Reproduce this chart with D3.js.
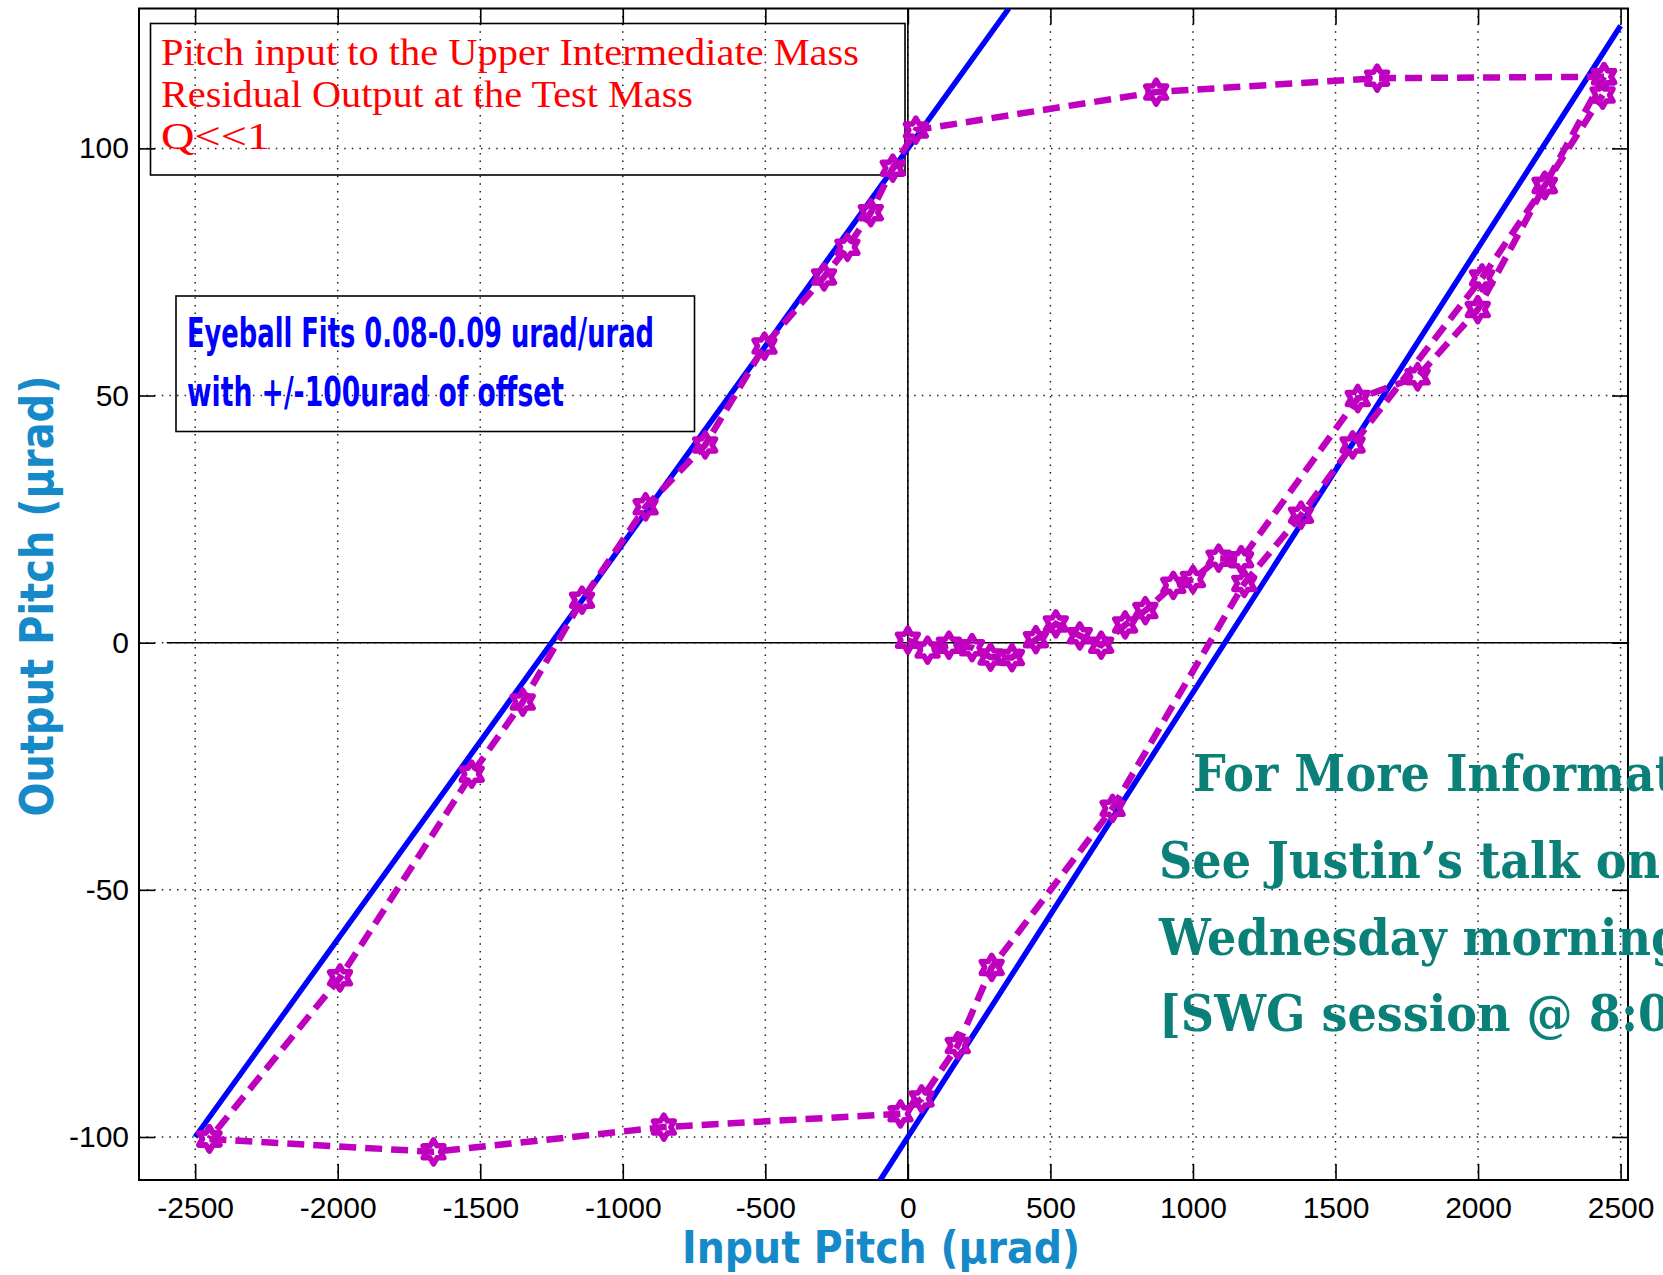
<!DOCTYPE html>
<html>
<head>
<meta charset="utf-8">
<script src="https://cdn.jsdelivr.net/npm/d3@7"></script>
<style>
  body { margin: 0; background: #fff; }
  svg { display: block; }
</style>
</head>
<body>
<div id="chart"></div>
<script>

var xTicks = [-2500, -2000, -1500, -1000, -500, 0, 500, 1000, 1500, 2000, 2500];
var yTicks = [-100, -50, 0, 50, 100];

// first sweep from rest, 0 -> +2500
var upFirstX = [0, 69, 144, 225, 290, 365, 449, 519, 603, 678, 762, 833, 931, 1000, 1090, 1169, 1578, 1788, 1999, 2234, 2442];
var upFirstY = [0.5, -1.5, -0.5, -1, -2.9, -3, 0.6, 3.8, 1.4, -0.5, 3.6, 6.5, 11.6, 12.8, 17.1, 16.8, 49.4, 53.8, 67.4, 92.5, 114.5];

// +2500 -> -2500
var downX = [2442, 1646, 871, 28, -53, -130, -212, -294, -503, -711, -920, -1143, -1351, -1530, -1992, -2450];
var downY = [114.5, 114.2, 111.4, 103.7, 96, 87, 80, 74, 60, 40, 27.5, 8.6, -12, -26.6, -67.8, -100.4];

// -2500 -> +2500
var upSecondX = [-2450, -1664, -856, -26, 48, 175, 294, 718, 1180, 1379, 1560, 2014, 2234, 2437];
var upSecondY = [-100.4, -103, -98, -95.3, -92.3, -81.5, -65.7, -33.5, 12.0, 25.8, 40, 73.8, 92.5, 110.8];

// eyeball fits
var fitLeftX = [-2500, 354];
var fitLeftY = [-100, 128.3];
var fitRightX = [-98, 2500];
var fitRightY = [-108.8, 124.8];

var infoLines = ["Pitch input to the Upper Intermediate Mass", "Residual Output at the Test Mass", "Q<<1"];
var fitLines = ["Eyeball Fits 0.08-0.09 urad/urad", "with +/-100urad of offset"];
var talkLines = ["For More Information", "See Justin\u2019s talk on", "Wednesday morning", "[SWG session @ 8:00"];

var W = 1663, H = 1275;
var pL = 139, pR = 1628, pT = 8.5, pB = 1180;

var svg = d3.select("#chart").append("svg")
    .attr("width", W)
    .attr("height", H);

svg.append("rect").attr("width", W).attr("height", H).attr("fill", "#fff");

var x = d3.scaleLinear().domain([-2697, 2526]).range([pL, pR]);
var y = d3.scaleLinear().domain([-108.7, 128.3]).range([pB, pT]);

svg.append("defs").append("clipPath").attr("id", "plotclip")
  .append("rect")
    .attr("x", pL).attr("y", pT)
    .attr("width", pR - pL).attr("height", pB - pT);

// grid
var grid = svg.append("g").attr("class", "grid")
    .attr("stroke", "#222")
    .attr("stroke-width", 1.5)
    .attr("stroke-dasharray", "1.5,6.1");

grid.selectAll(".gx").data(xTicks).enter().append("line")
    .attr("x1", function(d) { return x(d); })
    .attr("x2", function(d) { return x(d); })
    .attr("y1", pT).attr("y2", pB);

grid.selectAll(".gy").data(yTicks).enter().append("line")
    .attr("y1", function(d) { return y(d); })
    .attr("y2", function(d) { return y(d); })
    .attr("x1", pL).attr("x2", pR);

// zero axes
svg.append("line")
    .attr("x1", x(0)).attr("x2", x(0))
    .attr("y1", pT).attr("y2", pB)
    .attr("stroke", "#000").attr("stroke-width", 1.6);
svg.append("line")
    .attr("x1", x(-2600)).attr("x2", pR)
    .attr("y1", y(0)).attr("y2", y(0))
    .attr("stroke", "#000").attr("stroke-width", 1.6);

// inner ticks on all four sides
function noDomain(g) { g.select(".domain").remove(); g.selectAll("line").attr("stroke", "#000").attr("stroke-width", 1.6); }

svg.append("g").attr("transform", "translate(0," + pB + ")")
    .call(d3.axisTop(x).tickValues(xTicks).tickSize(16).tickFormat(""))
    .call(noDomain);
svg.append("g").attr("transform", "translate(0," + pT + ")")
    .call(d3.axisBottom(x).tickValues(xTicks).tickSize(16).tickFormat(""))
    .call(noDomain);
svg.append("g").attr("transform", "translate(" + pL + ",0)")
    .call(d3.axisRight(y).tickValues(yTicks).tickSize(16).tickFormat(""))
    .call(noDomain);
svg.append("g").attr("transform", "translate(" + pR + ",0)")
    .call(d3.axisLeft(y).tickValues(yTicks).tickSize(16).tickFormat(""))
    .call(noDomain);

// tick labels
var xAxis = svg.append("g").attr("transform", "translate(0," + pB + ")")
    .call(d3.axisBottom(x).tickValues(xTicks).tickSize(0).tickPadding(17)
      .tickFormat(function(d) { return String(d); }));
xAxis.select(".domain").remove();
xAxis.selectAll("text")
    .attr("font-family", "Liberation Sans, Arial, sans-serif")
    .attr("font-size", 30).attr("fill", "#000");

var yAxis = svg.append("g").attr("transform", "translate(" + pL + ",0)")
    .call(d3.axisLeft(y).tickValues(yTicks).tickSize(0).tickPadding(10)
      .tickFormat(function(d) { return String(d); }));
yAxis.select(".domain").remove();
yAxis.selectAll("text")
    .attr("font-family", "Liberation Sans, Arial, sans-serif")
    .attr("font-size", 30).attr("fill", "#000");

// frame
svg.append("rect")
    .attr("x", pL).attr("y", pT)
    .attr("width", pR - pL).attr("height", pB - pT)
    .attr("fill", "none").attr("stroke", "#000").attr("stroke-width", 2);

// text boxes (transparent, grid shows through)
svg.append("rect")
    .attr("x", 150.5).attr("y", 23.5).attr("width", 754.5).attr("height", 151.5)
    .attr("fill", "none").attr("stroke", "#000").attr("stroke-width", 1.6);

var infoWidths = [698, 532, 109];
var infoBase = [65, 107, 149];
svg.selectAll(".info").data(infoLines).enter().append("text")
    .attr("x", 161)
    .attr("y", function(d, i) { return infoBase[i]; })
    .attr("font-family", "Liberation Serif, Times New Roman, serif")
    .attr("font-size", 38)
    .attr("fill", "#ff0000")
    .attr("textLength", function(d, i) { return infoWidths[i]; })
    .attr("lengthAdjust", "spacingAndGlyphs")
    .text(function(d) { return d; });

svg.append("rect")
    .attr("x", 176).attr("y", 296).attr("width", 518.5).attr("height", 135.5)
    .attr("fill", "none").attr("stroke", "#000").attr("stroke-width", 1.6);

var fitWidths = [467, 377];
var fitBase = [347, 406];
svg.selectAll(".fitnote").data(fitLines).enter().append("text")
    .attr("x", 187)
    .attr("y", function(d, i) { return fitBase[i]; })
    .attr("font-family", "Liberation Sans Narrow, DejaVu Sans Condensed, Liberation Sans, sans-serif")
    .attr("font-weight", "bold")
    .attr("font-size", 40)
    .attr("fill", "#0000ff")
    .attr("textLength", function(d, i) { return fitWidths[i]; })
    .attr("lengthAdjust", "spacingAndGlyphs")
    .text(function(d) { return d; });

// plot content
var plot = svg.append("g").attr("clip-path", "url(#plotclip)");

var line = d3.line()
    .x(function(d) { return x(d[0]); })
    .y(function(d) { return y(d[1]); });

[[fitLeftX, fitLeftY], [fitRightX, fitRightY]].forEach(function(f) {
  plot.append("path")
      .datum(d3.zip(f[0], f[1]))
      .attr("d", line)
      .attr("fill", "none")
      .attr("stroke", "#0000ff")
      .attr("stroke-width", 5.5);
});

var magenta = "#bf00bf";
var sweeps = [[upFirstX, upFirstY], [downX, downY], [upSecondX, upSecondY]];

sweeps.forEach(function(s) {
  plot.append("path")
      .datum(d3.zip(s[0], s[1]))
      .attr("d", line)
      .attr("fill", "none")
      .attr("stroke", magenta)
      .attr("stroke-width", 6.5)
      .attr("stroke-dasharray", "17,9");
});

function hexagram(r) {
  var pts = [];
  for (var i = 0; i < 12; i++) {
    var a = -Math.PI / 2 + i * Math.PI / 6;
    var rr = (i % 2) ? r / Math.sqrt(3) : r;
    pts.push([rr * Math.cos(a), rr * Math.sin(a)]);
  }
  return "M" + pts.join("L") + "Z";
}
var star = hexagram(12);

sweeps.forEach(function(s) {
  plot.selectAll(null)
      .data(d3.zip(s[0], s[1]))
    .enter().append("path")
      .attr("d", star)
      .attr("transform", function(d) { return "translate(" + x(d[0]) + "," + y(d[1]) + ")"; })
      .attr("fill", "none")
      .attr("stroke", magenta)
      .attr("stroke-width", 5.5)
      .attr("stroke-linejoin", "round");
});

// axis labels
svg.append("text")
    .attr("x", 881).attr("y", 1263)
    .attr("text-anchor", "middle")
    .attr("font-family", "DejaVu Sans, sans-serif")
    .attr("font-weight", "bold")
    .attr("font-size", 44)
    .attr("fill", "#1689c9")
    .attr("textLength", 398)
    .attr("lengthAdjust", "spacingAndGlyphs")
    .text("Input Pitch (\u03bcrad)");

svg.append("text")
    .attr("transform", "translate(53,596) rotate(-90)")
    .attr("text-anchor", "middle")
    .attr("font-family", "DejaVu Sans, sans-serif")
    .attr("font-weight", "bold")
    .attr("font-size", 46)
    .attr("fill", "#1689c9")
    .attr("textLength", 441)
    .attr("lengthAdjust", "spacingAndGlyphs")
    .text("Output Pitch (\u03bcrad)");

// note on the right, runs off the edge as in the slide
var talkX = [1193, 1159, 1159, 1159];
var talkBase = [791, 878, 955, 1031];
var talk = svg.selectAll(".talk").data(talkLines).enter().append("text")
    .attr("x", function(d, i) { return talkX[i]; })
    .attr("y", function(d, i) { return talkBase[i]; })
    .attr("font-family", "DejaVu Serif, serif")
    .attr("font-weight", "bold")
    .attr("font-size", 50)
    .attr("fill", "#0b8079")
    .text(function(d) { return d; });

var nat = talk.nodes().map(function(n) { return n.getComputedTextLength(); });
var ratio = 501 / nat[1];
talk.attr("textLength", function(d, i) { return nat[i] * ratio; })
    .attr("lengthAdjust", "spacingAndGlyphs");

</script>
</body>
</html>
